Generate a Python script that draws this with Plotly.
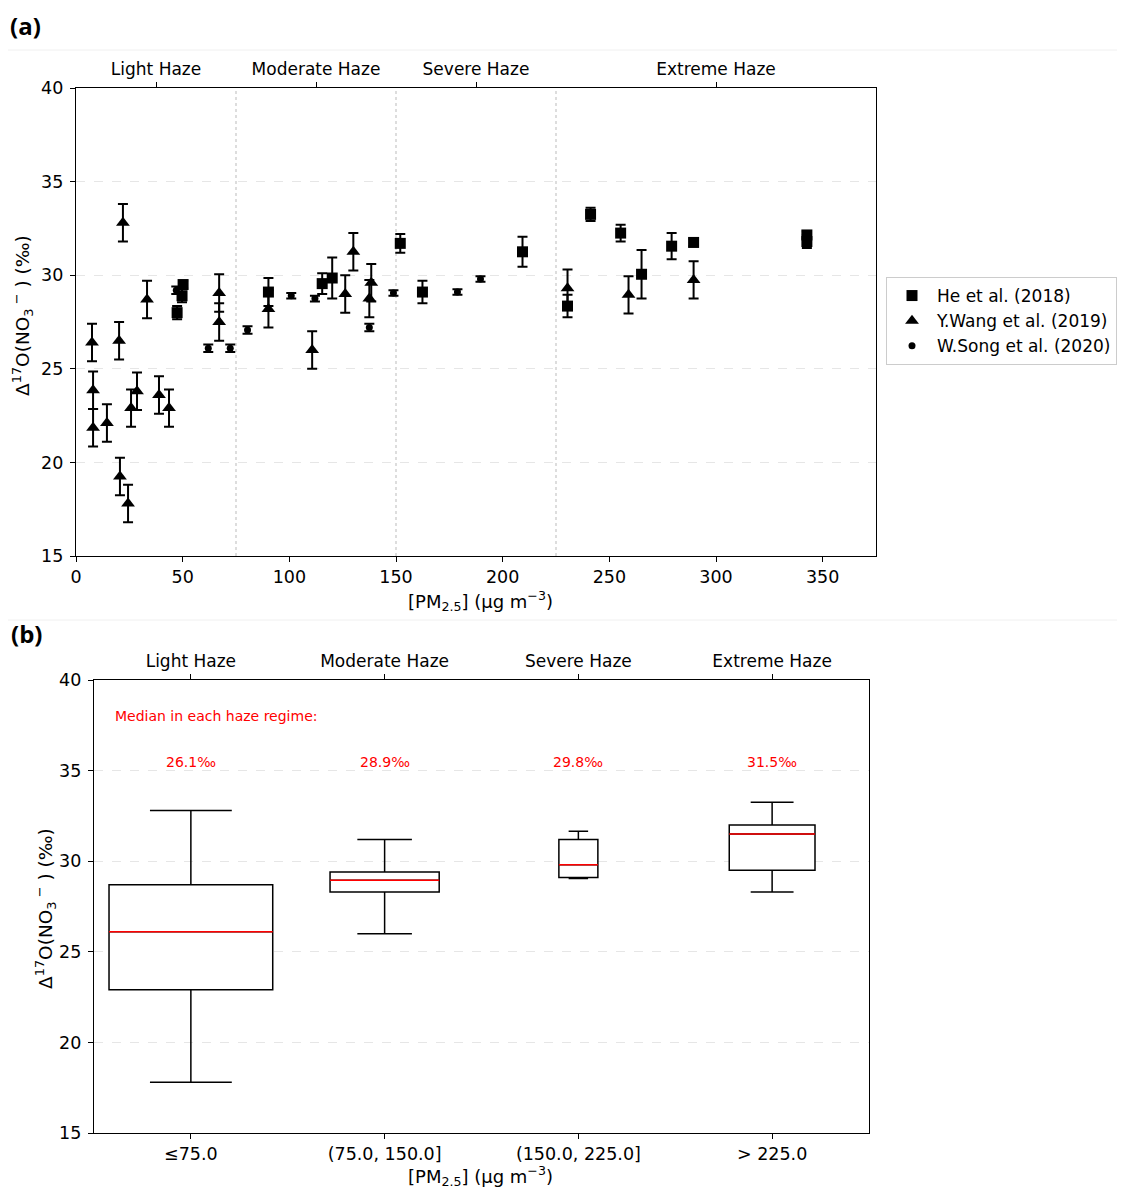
import plotly.graph_objects as go

# ---------------- data: panel (a) ----------------
he_x = [47.4, 49.7, 50.2, 90.2, 115.4, 120.1, 152.0, 162.4, 209.3, 230.4, 241.2, 255.3, 265.1, 279.2, 289.5, 342.6, 342.6]
he_y = [28.0, 28.9, 29.5, 29.1, 29.55, 29.85, 31.7, 29.1, 31.25, 28.35, 33.25, 32.25, 30.05, 31.55, 31.75, 32.15, 31.8]
he_err = [0.35, 0.35, 0.2, 0.75, 0.55, 1.1, 0.5, 0.6, 0.8, 0.6, 0.35, 0.45, 1.3, 0.7, 0.2, 0.2, 0.35]

wang_x = [7.5, 8.0, 8.0, 14.5, 22.0, 20.2, 20.6, 24.4, 25.8, 28.6, 33.3, 38.9, 43.6, 67.1, 67.1,
          90.2, 110.7, 126.2, 130.0, 137.5, 138.4, 230.4, 259.0, 289.5]
wang_y = [26.4, 23.85, 21.85, 22.1, 32.8, 26.5, 19.25, 17.8, 22.9, 23.8, 28.7, 23.6, 22.9, 29.05, 27.5,
          28.2, 26.0, 29.0, 31.25, 28.75, 29.6, 29.3, 28.95, 29.75]
wang_err = [1.0] * len(wang_x)

song_x = [47.0, 62.0, 72.3, 80.4, 100.9, 112.0, 137.5, 148.8, 178.8, 189.6]
song_y = [29.2, 26.1, 26.1, 27.07, 28.9, 28.75, 27.2, 29.05, 29.1, 29.8]
song_err = [0.2, 0.2, 0.2, 0.2, 0.15, 0.15, 0.2, 0.15, 0.15, 0.15]

x_ticks_a = [0, 50, 100, 150, 200, 250, 300, 350]
y_ticks = [15, 20, 25, 30, 35, 40]
regime_bounds = [75, 150, 225]
regime_centers = [37.5, 112.5, 187.5, 300]
regime_names = ["Light Haze", "Moderate Haze", "Severe Haze", "Extreme Haze"]

# ---------------- data: panel (b) ----------------
box_cats = ["≤75.0", "(75.0, 150.0]", "(150.0, 225.0]", "> 225.0"]
box_pos = [1, 2, 3, 4]
box_n = [21, 14, 5, 11]
box_low = [17.8, 26.0, 29.05, 28.3]
box_q1 = [22.9, 28.3, 29.1, 29.5]
box_med = [26.1, 28.95, 29.8, 31.5]
box_q3 = [28.7, 29.4, 31.2, 32.0]
box_high = [32.8, 31.2, 31.65, 33.25]
median_labels = ["26.1‰", "28.9‰", "29.8‰", "31.5‰"]

FONT = "DejaVu Sans"
OFF = 8  # page body margin
W, H = 1125 - OFF, 1191 - OFF

def px_x(p):
    return (p - OFF) / W

def px_y(p):
    return 1 - (p - OFF) / H

fig = go.Figure()

def series(x, y, err, name, symbol, size):
    fig.add_trace(go.Scatter(
        x=x, y=y, mode="markers", name=name,
        marker=dict(symbol=symbol, size=size, color="black"),
        error_y=dict(type="data", array=err, color="black", thickness=2, width=5),
        xaxis="x", yaxis="y"))

series(he_x, he_y, he_err, "He et al. (2018)", "square", 11)
series(wang_x, wang_y, wang_err, "Y.Wang et al. (2019)", "triangle-up", 12)
series(song_x, song_y, song_err, "W.Song et al. (2020)", "circle", 7)

# invisible traces so that the top (haze regime) axes are drawn
fig.add_trace(go.Scatter(x=regime_centers, y=[None] * len(regime_centers), mode="markers",
                         marker=dict(opacity=0), showlegend=False, hoverinfo="skip",
                         xaxis="x3", yaxis="y"))
fig.add_trace(go.Scatter(x=box_pos, y=[None] * len(box_pos), mode="markers",
                         marker=dict(opacity=0), showlegend=False, hoverinfo="skip",
                         xaxis="x4", yaxis="y2"))

# panel (b) boxes
scale = 0.845 / max(box_n)
widths = [n * scale for n in box_n]
for i in range(len(box_pos)):
    fig.add_trace(go.Box(
        x=[box_pos[i]], q1=[box_q1[i]], median=[box_med[i]], q3=[box_q3[i]],
        lowerfence=[box_low[i]], upperfence=[box_high[i]],
        width=widths[i], whiskerwidth=0.5,
        fillcolor="white", line=dict(color="black", width=1.5),
        showlegend=False, boxpoints=False, hoverinfo="skip",
        xaxis="x2", yaxis="y2"))

mx, my = [], []
for i in range(len(box_pos)):
    mx += [box_pos[i] - widths[i] / 2, box_pos[i] + widths[i] / 2, None]
    my += [box_med[i], box_med[i], None]
fig.add_trace(go.Scatter(x=mx, y=my, mode="lines", line=dict(color="red", width=1.5),
                         showlegend=False, hoverinfo="skip", xaxis="x2", yaxis="y2"))

tickfont = dict(family=FONT, size=17.5, color="black")
axis_common = dict(showline=True, linecolor="black", linewidth=1.2, mirror=True,
                   ticks="outside", ticklen=5, tickwidth=1, tickcolor="black",
                   tickfont=tickfont, zeroline=False)
top_common = dict(side="top", ticks="outside", ticklen=5, tickwidth=1, tickcolor="black",
                  tickfont=dict(family=FONT, size=17, color="black"),
                  showline=False, showgrid=False, zeroline=False)

dom_a_x = [px_x(76), px_x(876)]
dom_a_y = [px_y(556), px_y(88)]
dom_b_x = [px_x(94), px_x(869)]
dom_b_y = [px_y(1133), px_y(680)]

fig.update_layout(
    width=W, height=H, margin=dict(l=0, r=0, t=0, b=0, autoexpand=False),
    paper_bgcolor="white", plot_bgcolor="white",
    font=dict(family=FONT, size=17, color="black"),
    xaxis=dict(domain=dom_a_x, range=[0, 375], tickvals=x_ticks_a, anchor="y",
               showgrid=False, **axis_common),
    yaxis=dict(domain=dom_a_y, range=[15, 40], tickvals=y_ticks, anchor="x",
               showgrid=True, gridcolor="#e6e6e6", griddash="dash", gridwidth=1,
               ticklabelstandoff=3, **axis_common),
    xaxis3=dict(overlaying="x", anchor="y", range=[0, 375],
                tickvals=regime_centers, ticktext=regime_names, **top_common),
    xaxis2=dict(domain=dom_b_x, range=[0.5, 4.5], tickvals=box_pos, ticktext=box_cats,
                anchor="y2", showgrid=False, **axis_common),
    yaxis2=dict(domain=dom_b_y, range=[15, 40], tickvals=y_ticks, anchor="x2",
                showgrid=True, gridcolor="#e6e6e6", griddash="dash", gridwidth=1,
                ticklabelstandoff=3, **axis_common),
    xaxis4=dict(overlaying="x2", anchor="y2", range=[0.5, 4.5],
                tickvals=box_pos, ticktext=regime_names, **top_common),
    legend=dict(x=px_x(886), y=px_y(277), xanchor="left", yanchor="top",
                bgcolor="white", bordercolor="#cccccc", borderwidth=1,
                font=dict(family=FONT, size=17, color="black"),
                tracegroupgap=0, itemsizing="trace", itemwidth=40),
    showlegend=True,
)

shapes = []
for b in regime_bounds:
    shapes.append(dict(type="line", xref="x", yref="y", x0=b, x1=b, y0=15, y1=40,
                       line=dict(color="#bbbbbb", width=1, dash="dot"), layer="below"))
for yy in [50, 620]:
    shapes.append(dict(type="line", xref="paper", yref="paper", x0=0, x1=1,
                       y0=px_y(yy), y1=px_y(yy), line=dict(color="#f0f0f0", width=1)))
fig.update_layout(shapes=shapes)

ann = []
ann.append(dict(text="<b>(a)</b>", xref="paper", yref="paper", x=px_x(9), y=px_y(8),
                xanchor="left", yanchor="top", showarrow=False, borderpad=0,
                font=dict(family="Open Sans", size=24, color="black")))
ann.append(dict(text="<b>(b)</b>", xref="paper", yref="paper", x=px_x(9), y=px_y(633),
                xanchor="left", yanchor="middle", showarrow=False,
                font=dict(family="Open Sans", size=24, color="black")))
ytitle = "Δ<sup>17</sup>O(NO<sub>3</sub><sup> −</sup> ) (‰)"
xtitle = "[PM<sub>2.5</sub>] (μg m<sup>−3</sup>)"
ann.append(dict(text=ytitle, xref="paper", yref="paper", x=px_x(22), y=px_y(316),
                textangle=-90, showarrow=False, xanchor="center", yanchor="middle",
                font=dict(family=FONT, size=18.5)))
ann.append(dict(text=ytitle, xref="paper", yref="paper", x=px_x(45), y=px_y(909),
                textangle=-90, showarrow=False, xanchor="center", yanchor="middle",
                font=dict(family=FONT, size=18.5)))
ann.append(dict(text=xtitle, xref="paper", yref="paper", x=px_x(481), y=px_y(601),
                showarrow=False, xanchor="center", yanchor="middle",
                font=dict(family=FONT, size=18)))
ann.append(dict(text=xtitle, xref="paper", yref="paper", x=px_x(481), y=px_y(1176),
                showarrow=False, xanchor="center", yanchor="middle",
                font=dict(family=FONT, size=18)))
ann.append(dict(text="Median in each haze regime:", xref="x2", yref="y2", x=0.6, y=38.0,
                showarrow=False, xanchor="left", yanchor="middle",
                font=dict(family=FONT, size=14, color="red")))
for i in range(len(box_pos)):
    ann.append(dict(text=median_labels[i], xref="x2", yref="y2", x=box_pos[i], y=35.5,
                    showarrow=False, xanchor="center", yanchor="middle",
                    font=dict(family=FONT, size=14, color="red")))
fig.update_layout(annotations=ann)

fig.write_html("out.html")
